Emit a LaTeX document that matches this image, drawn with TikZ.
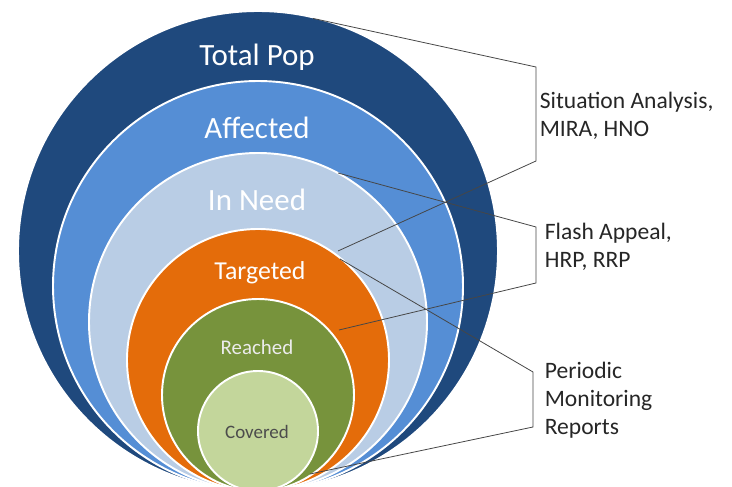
\documentclass[tikz,border=0pt]{standalone}
\usepackage{fontspec}
\setmainfont{Carlito}
\definecolor{popblue}{RGB}{31,73,125}
\definecolor{affblue}{RGB}{85,142,213}
\definecolor{needblue}{RGB}{185,205,229}
\definecolor{targorange}{RGB}{228,108,10}
\definecolor{reachgreen}{RGB}{119,147,60}
\definecolor{covgreen}{RGB}{195,214,155}
\definecolor{leadgray}{RGB}{70,70,70}
\definecolor{textgray}{RGB}{38,38,38}
\begin{document}
\begin{tikzpicture}[scale=0.2]
		\tikzstyle{every node}+=[inner sep=0pt]
		\tikzstyle{ring}=[draw=white, line width=1.1pt]
		\tikzstyle{lead}=[draw=leadgray, line width=0.45pt]
		\tikzstyle{side}=[anchor=west, align=left, text=textgray, font=\fontsize{13.4}{16}\selectfont]
		\useasboundingbox (0,0) rectangle (73.2,-48.7);
		\clip (0,0) rectangle (73.2,-48.7);
		% nested circles, all touching at the bottom
		\draw [ring, fill=popblue] (25.8,-25.1) circle (24.0);
		\draw [ring, fill=affblue] (25.8,-28.6) circle (20.5);
		\draw [ring, fill=needblue] (25.8,-32.2) circle (16.9);
		\draw [ring, fill=targorange] (25.8,-36.0) circle (13.1);
		\draw [ring, fill=reachgreen] (25.8,-39.5) circle (9.6);
		\draw [ring, fill=covgreen] (25.8,-43.1) circle (6.0);
		\node (totpop) [text=white, font=\fontsize{17.6}{20}\selectfont] at (25.7,-5.7) {Total Pop};
		\node (affected) [text=white, font=\fontsize{17.6}{20}\selectfont] at (25.7,-12.8) {Affected};
		\node (inneed) [text=white, font=\fontsize{17.6}{20}\selectfont] at (25.7,-20.0) {In Need};
		\node (targeted) [text=white, font=\fontsize{14.7}{17}\selectfont] at (26.0,-27.3) {Targeted};
		\node (reached) [text=white!92!black, font=\fontsize{11.9}{14}\selectfont] at (25.7,-34.7) {Reached};
		\node (covered) [text=black!70, font=\fontsize{10.8}{13}\selectfont] at (25.7,-43.2) {Covered};
		% side labels
		\node (sitlab) [side] at (53.95,-11.6) {Situation Analysis,\\MIRA, HNO};
		\node (flashlab) [side] at (54.45,-24.7) {Flash Appeal,\\HRP, RRP};
		\node (perlab) [side] at (54.45,-40.0) {Periodic\\Monitoring\\Reports};
		% bracket ends and circle points
		\coordinate (sitTop) at (53.6,-6.7);
		\coordinate (sitBot) at (53.6,-16.1);
		\coordinate (flashTop) at (53.6,-22.7);
		\coordinate (flashBot) at (53.6,-28.3);
		\coordinate (perTop) at (53.3,-37.2);
		\coordinate (perBot) at (53.3,-42.7);
		\coordinate (popEdge) at (31.3,-1.84);
		\coordinate (needEdgeA) at (33.8,-25.1);
		\coordinate (needEdgeB) at (33.8,-17.3);
		\coordinate (targEdgeA) at (33.9,-33.0);
		\coordinate (targEdgeB) at (34.0,-25.9);
		\coordinate (covEdge) at (31.0,-47.4);
		\draw [lead] (popEdge) -- (sitTop) -- (sitBot) -- (needEdgeA);
		\draw [lead] (needEdgeB) -- (flashTop) -- (flashBot) -- (targEdgeA);
		\draw [lead] (targEdgeB) -- (perTop) -- (perBot) -- (covEdge);
	\end{tikzpicture}
\end{document}
